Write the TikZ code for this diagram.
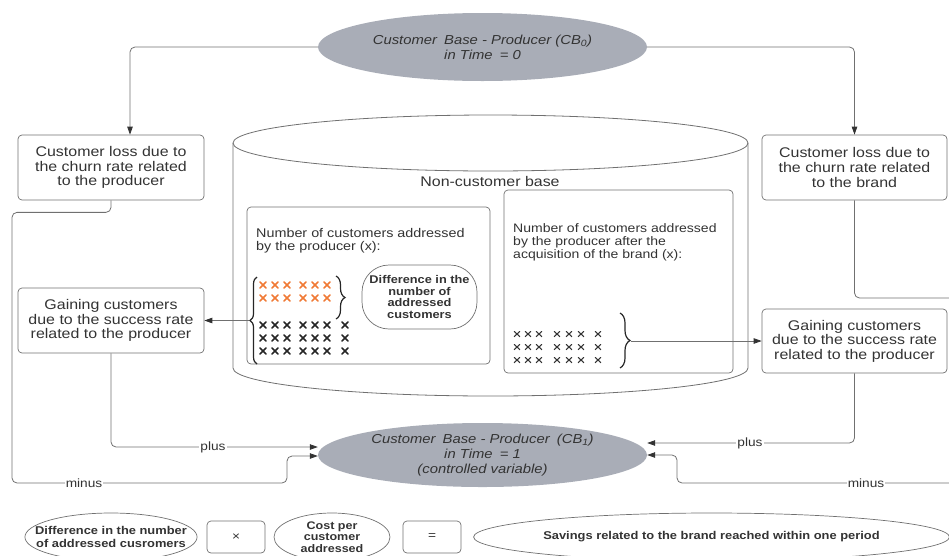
\documentclass[tikz,border=0pt]{standalone}
\usepackage{fontspec}
\setmainfont{Liberation Sans}[FakeStretch=1.14]
\usetikzlibrary{arrows.meta,decorations.pathreplacing,shapes.geometric,calc}

\definecolor{basefill}{HTML}{A9ADB7}
\definecolor{linegray}{HTML}{707070}
\definecolor{txt}{HTML}{333333}
\definecolor{orangex}{HTML}{F07A35}

\tikzset{
  every node/.style={text=txt},
  stepbox/.style={draw=linegray, line width=0.7pt, rounded corners=4pt, inner sep=0pt,
    align=center, font=\fontsize{14}{14.6}\selectfont},
  basenode/.style={ellipse, fill=basefill, draw=none, inner sep=0pt, align=center,
    font=\fontsize{13}{15}\selectfont\itshape},
  footoval/.style={ellipse, draw=linegray, line width=0.7pt, inner sep=0pt, align=center,
    font=\fontsize{11.3}{12.6}\selectfont\bfseries},
  link/.style={draw=linegray, line width=0.8pt, rounded corners=5pt},
  arr/.style={-{Triangle[length=8pt,width=5.5pt,color=black!80]}},
  lbl/.style={fill=white, inner sep=1pt, font=\fontsize{12}{12}\selectfont},
  bracepen/.style={decorate, line width=1.2pt, draw=black!85},
  boldx/.style={line width=1.5pt, line cap=round},
  thinx/.style={line width=1.1pt, line cap=round, draw=black!80},
}

\begin{document}
\begin{tikzpicture}[x=1pt, y=-1pt]
\useasboundingbox (0,0) rectangle (949,555);
\clip (0,0) rectangle (949,555);

% customer base at time 0 and time 1
\node[basenode, minimum width=329pt, minimum height=68pt] (CB0) at (482.5,47)
  {Customer\hspace{3pt} Base - Producer (CB\textsubscript{0})\\in Time\hspace{3pt} = 0};
\node[basenode, minimum width=329pt, minimum height=64pt] (CB1) at (482.5,455)
  {Customer\hspace{3pt} Base - Producer\hspace{3pt} (CB\textsubscript{1})\\in Time\hspace{3pt} = 1\\(controlled variable)};

% side boxes
\node[stepbox, minimum width=186pt, minimum height=65pt] (churnL) at (111,167.5)
  {Customer loss due to\\the churn rate related\\to the producer};
\node[stepbox, minimum width=185pt, minimum height=65pt] (churnR) at (854.5,167.5)
  {Customer loss due to\\the churn rate related\\to the brand};
\node[stepbox, minimum width=186pt, minimum height=65pt] (gainL) at (111,320.5)
  {Gaining customers\\due to the success rate\\related to the producer};
\node[stepbox, minimum width=185pt, minimum height=64pt] (gainR) at (854.5,341)
  {Gaining customers\\due to the success rate\\related to the producer};

% non-customer base cylinder
\draw[draw=linegray, line width=0.8pt] (490.5,143) ellipse [x radius=257.5pt, y radius=28pt];
\draw[draw=linegray, line width=0.8pt]
  (233,143) -- (233,368)
  .. controls (233,383.5) and (348.3,396) .. (490.5,396)
  .. controls (632.7,396) and (748,383.5) .. (748,368) -- (748,143);
\node[font=\fontsize{14}{14}\selectfont] (ncb) at (490,181) {Non-customer base};

% inner boxes
\node[draw=linegray, line width=0.7pt, rounded corners=4pt, minimum width=243pt,
  minimum height=157pt, inner sep=0pt] (boxL) at (368.5,285.5) {};
\node[draw=linegray, line width=0.7pt, rounded corners=4pt, minimum width=229pt,
  minimum height=183pt, inner sep=0pt] (boxR) at (618.5,281.5) {};
\node[anchor=north west, inner sep=0pt, align=left,
  font=\fontsize{12.6}{13.4}\selectfont] (txtL) at (256,228)
  {Number of customers addressed\\by the producer (x):};
\node[anchor=north west, inner sep=0pt, align=left,
  font=\fontsize{12.3}{13.4}\selectfont] (txtR) at (513,223)
  {Number of customers addressed\\by the producer after the\\acquisition of the brand (x):};

\node[draw=linegray, line width=0.7pt, rounded corners=27pt, minimum width=115pt,
  minimum height=64pt, inner sep=0pt, align=center,
  font=\fontsize{11.2}{11.8}\selectfont\bfseries] (diffnode) at (419.5,297)
  {Difference in the\\number of\\addressed\\customers};

% crosses, producer before acquisition
\foreach \y in {285,298}
  \foreach \x in {263,275,287,303,315,327}
    \draw[boldx, draw=orangex] (\x-3.2,\y-3.2) -- (\x+3.2,\y+3.2) (\x-3.2,\y+3.2) -- (\x+3.2,\y-3.2);
\foreach \y in {325,338,351}
  \foreach \x in {263,275,287,303,315,327,345}
    \draw[boldx, draw=black!85] (\x-3.2,\y-3.2) -- (\x+3.2,\y+3.2) (\x-3.2,\y+3.2) -- (\x+3.2,\y-3.2);

% crosses, producer after acquisition
\foreach \y in {334,347,360}
  \foreach \x in {517,528,539,557,569,581,598}
    \draw[thinx] (\x-2.8,\y-2.6) -- (\x+2.8,\y+2.6) (\x-2.8,\y+2.6) -- (\x+2.8,\y-2.6);

% braces
\draw[bracepen, decoration={brace, amplitude=7pt}] (257,364) -- (257,277);
\draw[bracepen, decoration={brace, amplitude=9pt}] (336,276) -- (336,319);
\draw[bracepen, decoration={brace, amplitude=10pt}] (620,313) -- (620,368);
\coordinate (braceL) at (249,320.5);
\coordinate (braceR) at (631,341);

% connectors
\draw[link, arr] (CB0.west) -| ([xshift=19pt]churnL.north);
\draw[link, arr] (CB0.east) -| (churnR.north);
\draw[link, arr] (braceL) -- (gainL.east);
\draw[link, arr] (braceR) -- (gainR.west);

\draw[link, arr] (churnL.south) -- ++(0,12) -| (12,483) -| (287,456) -- ([yshift=-1pt]CB1.west);
\draw[link, arr] (gainL.south) |- ([yshift=8pt]CB1.west);
\draw[link, arr] (gainR.south) |- ([yshift=12pt]CB1.east);

\coordinate (edgeA) at (949,298);
\coordinate (edgeB) at (949,483);
\draw[link] (churnR.south) |- (edgeA);
\draw[link, arr] (edgeB) -| (677,455) -- (CB1.east);

\node[lbl] (minusL) at (84,483) {minus};
\node[lbl] (plusL) at (213,447) {plus};
\node[lbl] (plusR) at (750,443) {plus};
\node[lbl] (minusR) at (866,483) {minus};

% savings formula
\node[footoval, minimum width=172pt, minimum height=48pt, inner xsep=-15pt] (diffB) at (111,537)
  {Difference in the number\\of addressed cusromers};
\node[stepbox, minimum width=58pt, minimum height=32pt, font=\fontsize{12}{12}\selectfont] (timesB) at (236,537) {×};
\node[footoval, minimum width=116pt, minimum height=48pt,
  font=\fontsize{11}{11.5}\selectfont\bfseries] (costB) at (332,537)
  {Cost per\\customer\\addressed};
\node[stepbox, minimum width=58pt, minimum height=32pt, font=\fontsize{12}{12}\selectfont] (eqB) at (432,537) {=};
\node[footoval, minimum width=473pt, minimum height=48pt] (saveB) at (711.5,537)
  {Savings related to the brand reached within one period};
\end{tikzpicture}
\end{document}
